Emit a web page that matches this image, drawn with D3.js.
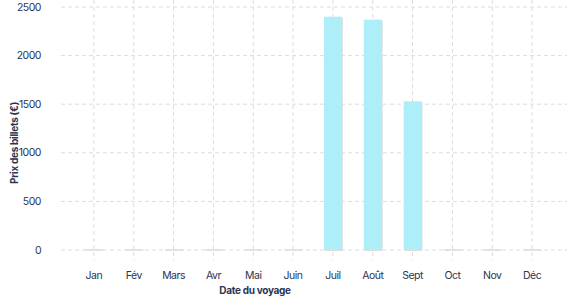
<!DOCTYPE html>
<html>
<head>
<meta charset="utf-8">
<script src="https://cdn.jsdelivr.net/npm/d3@7"></script>
<style>
  body { margin: 0; background: #fff; }
  text { font-family: "Inter", "Liberation Sans", sans-serif; fill: #2b3550; }
</style>
</head>
<body>
<div id="graph"></div>
<script>
var months = ['Jan', 'Fév', 'Mars', 'Avr', 'Mai', 'Juin', 'Juil', 'Août', 'Sept', 'Oct', 'Nov', 'Déc']
var prices = [8, 8, 8, 8, 8, 8, 2400, 2370, 1530, 8, 8, 8]
var yTicks = [0, 500, 1000, 1500, 2000, 2500]

var width = 577, height = 300
var margin = {top: 7, left: 61, bottom: 50, right: 10}

var svg = d3.select("#graph").append("svg")
            .attr("width", width).attr("height", height)

var x = d3.scaleBand()
          .domain(months)
          .range([74, 552])
          .paddingInner(0.55)
          .paddingOuter(0.275)

var y = d3.scaleLinear()
          .domain([0, 2500])
          .range([250, margin.top])

var grid = svg.append("g")

// horizontal grid
grid.selectAll(".hgrid")
    .data(yTicks)
    .enter().append("line")
    .attr("x1", margin.left).attr("x2", width - margin.right)
    .attr("y1", d => y(d)).attr("y2", d => y(d))
    .attr("stroke", "#dcdcdc")
    .attr("stroke-dasharray", "4,3")

// vertical grid
grid.selectAll(".vgrid")
    .data(months)
    .enter().append("line")
    .attr("x1", d => x(d) + x.bandwidth() / 2).attr("x2", d => x(d) + x.bandwidth() / 2)
    .attr("y1", 0).attr("y2", 260)
    .attr("stroke", "#dcdcdc")
    .attr("stroke-dasharray", "4,3")

var bars = svg.append("g")

// shadow
bars.selectAll(".shadow")
    .data(prices)
    .enter().append("rect")
    .attr("x", (d, i) => x(months[i]) + 1)
    .attr("y", d => y(d) + 1)
    .attr("width", x.bandwidth())
    .attr("height", d => 250 - y(d))
    .attr("fill", "#dedede")

bars.selectAll(".bar")
    .data(prices)
    .enter().append("rect")
    .attr("x", (d, i) => x(months[i]))
    .attr("y", d => y(d))
    .attr("width", x.bandwidth())
    .attr("height", d => 250 - y(d))
    .attr("fill", "#adeef9")

// y tick labels
svg.append("g").selectAll("text")
   .data(yTicks)
   .enter().append("text")
   .attr("x", 41)
   .attr("y", d => y(d))
   .attr("dy", "0.35em")
   .attr("text-anchor", "end")
   .attr("font-size", "10.5px")
   .attr("letter-spacing", "-0.5px")
   .text(d => d)

// x tick labels
svg.append("g").selectAll("text")
   .data(months)
   .enter().append("text")
   .attr("x", d => x(d) + x.bandwidth() / 2)
   .attr("y", 275)
   .attr("dy", "0.35em")
   .attr("text-anchor", "middle")
   .attr("font-size", "10.5px")
   .attr("letter-spacing", "-0.5px")
   .text(d => d)

svg.append("text")
   .attr("x", 255).attr("y", 294)
   .attr("text-anchor", "middle")
   .attr("font-size", "10px")
   .attr("font-weight", "bold")
   .attr("letter-spacing", "-0.3px")
   .text("Date du voyage")

svg.append("text")
   .attr("transform", "translate(18,143) rotate(-90)")
   .attr("text-anchor", "middle")
   .attr("font-size", "10px")
   .attr("font-weight", "bold")
   .attr("letter-spacing", "-0.3px")
   .text("Prix des billets (€)")
</script>
</body>
</html>
